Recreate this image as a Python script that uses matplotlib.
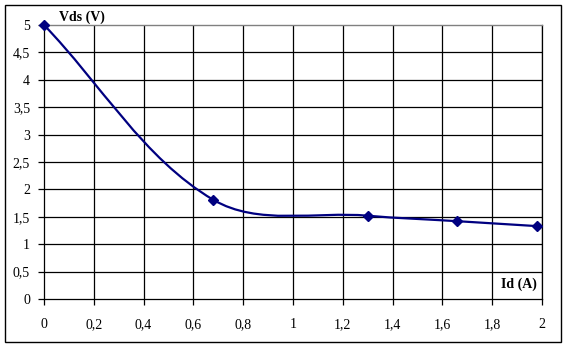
import numpy as np
import matplotlib.pyplot as plt
from matplotlib.path import Path
from matplotlib.patches import PathPatch, Rectangle

id_a = [0.0, 0.68, 1.30, 1.66, 1.98]
vds_v = [5.0, 1.81, 1.52, 1.42, 1.33]

x_ticks = [0, 0.2, 0.4, 0.6, 0.8, 1, 1.2, 1.4, 1.6, 1.8, 2]
y_ticks = [0, 0.5, 1, 1.5, 2, 2.5, 3, 3.5, 4, 4.5, 5]

line_color = "#000080"
plt.rcParams["font.family"] = ["Liberation Serif", "DejaVu Serif"]


def smooth_path(xs, ys, sx, sy):
    # excel-like smoothed line: cubic bezier segments, tangents from neighbours
    pts = np.column_stack([xs, ys]).astype(float)
    scale = np.array([sx, sy])
    p = pts * scale
    n = len(p)
    tang = np.zeros_like(p)
    for i in range(n):
        a = p[max(i - 1, 0)]
        b = p[min(i + 1, n - 1)]
        d = b - a
        tang[i] = d / np.linalg.norm(d)
    verts = [pts[0]]
    codes = [Path.MOVETO]
    for i in range(n - 1):
        seg = np.linalg.norm(p[i + 1] - p[i]) / 3
        c1 = p[i] + tang[i] * seg
        c2 = p[i + 1] - tang[i + 1] * seg
        verts += [c1 / scale, c2 / scale, pts[i + 1]]
        codes += [Path.CURVE4] * 3
    return Path(verts, codes)


fig = plt.figure(figsize=(5.67, 3.47), dpi=100)
fig.patches.append(Rectangle((5 / 567, 5 / 347), 556 / 567, 337 / 347,
                             transform=fig.transFigure, fill=False,
                             edgecolor="black", linewidth=1))

ax = fig.add_axes([44 / 567, 48 / 347, 498 / 567, 274 / 347])
ax.set_xlim(0, 2)
ax.set_ylim(0, 5)

for y in y_ticks[1:-1]:
    ax.axhline(y, color="black", linewidth=0.9, zorder=1)
for x in x_ticks[1:]:
    ax.axvline(x, color="black", linewidth=0.9, zorder=1)

for s in ["left", "bottom", "right"]:
    ax.spines[s].set_color("black")
    ax.spines[s].set_linewidth(0.9)
ax.spines["top"].set_color("#808080")
ax.spines["top"].set_linewidth(1)

ax.set_xticks(x_ticks)
ax.set_yticks(y_ticks)
ax.set_xticklabels([f"{v:g}".replace(".", ",") for v in x_ticks])
ax.set_yticklabels([f"{v:g}".replace(".", ",") for v in y_ticks])
ax.tick_params(axis="x", direction="out", length=4, width=0.9, pad=10, labelsize=10)
ax.tick_params(axis="y", direction="out", length=4, width=0.9, pad=6, labelsize=10)

path = smooth_path(id_a, vds_v, 498 / 2, 274 / 5)
ax.add_patch(PathPatch(path, facecolor="none", edgecolor=line_color,
                       linewidth=1.6, zorder=3, clip_on=False))
ax.plot(id_a, vds_v, linestyle="none", marker="D", markersize=5,
        color=line_color, zorder=4, clip_on=False)

ax.text(0.03, 1.005, "Vds (V)", transform=ax.transAxes, fontsize=10,
        fontweight="bold", ha="left", va="bottom")
ax.text(0.99, 0.03, "Id (A)", transform=ax.transAxes, fontsize=10,
        fontweight="bold", ha="right", va="bottom")

fig.savefig("out.png", dpi=100)
